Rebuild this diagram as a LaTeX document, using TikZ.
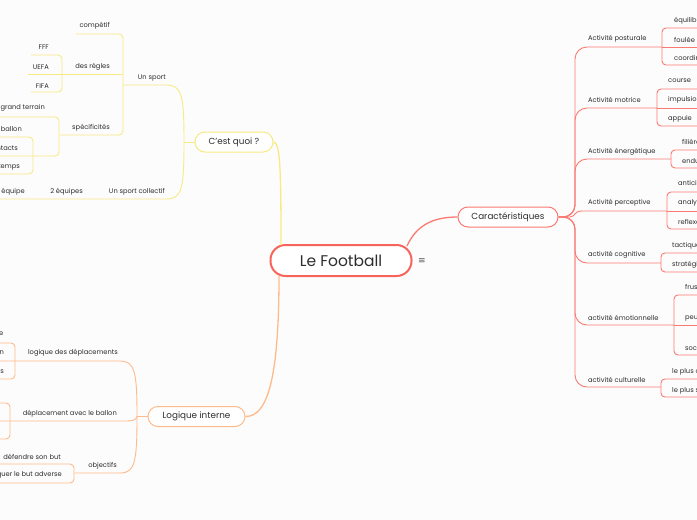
\documentclass[tikz,border=0pt]{standalone}
\usepackage{fontspec}
\setmainfont{Poppins}
\newfontfamily\dejavu{DejaVu Sans}
\definecolor{redA}{RGB}{246,100,92}
\definecolor{redB}{RGB}{250,122,114}
\definecolor{yel}{RGB}{247,234,130}
\definecolor{ora}{RGB}{255,186,138}
\definecolor{txt}{RGB}{45,45,45}
\begin{document}
\begin{tikzpicture}[x=1pt,y=-1pt,
  mainnode/.style={draw=redA, line width=2pt, rounded corners=15pt, minimum width=141pt, minimum height=31pt, fill=white, text=txt, font=\fontsize{15.5}{17}\selectfont},
  topic/.style={draw, line width=1pt, rounded corners=10pt, minimum height=20pt, fill=white, text=txt, font=\fontsize{8.8}{10}\selectfont},
  lbl/.style={font=\fontsize{6.7}{8}\selectfont, text=txt, inner sep=0pt},
  rmain/.style={draw=redB, line width=1.3pt},
  rsub/.style={draw=redB, line width=0.9pt},
  ymain/.style={draw=yel, line width=1.3pt},
  ysub/.style={draw=yel, line width=0.9pt},
  omain/.style={draw=ora, line width=1.3pt},
  osub/.style={draw=ora, line width=0.9pt}]
\fill[white!99!black] (0,0) rectangle (697,520);
\useasboundingbox (0,0) rectangle (697,520);
\clip (0,0) rectangle (697,520);

% ---------- main nodes ----------
\node[mainnode] (root) at (341,260.5) {Le Football};
\node[font=\dejavu\fontsize{9}{9}\selectfont, text=txt!80] (menu) at (422,261) {≡};
\node[topic, draw=redB, minimum width=100pt] (car) at (508,217) {Caractéristiques};
\node[topic, draw=yel, minimum width=78pt] (quoi) at (234,142) {C'est quoi ?};
\node[topic, draw=ora, minimum width=97pt] (logi) at (196.5,416.5) {Logique interne};

% ---------- root connectors ----------
\draw[rmain] (407,246) .. controls (416,226) and (432,217) .. (car.west);
\draw[ymain] (281,245) .. controls (281,165) and (280,143) .. (quoi.east);
\draw[omain] (279,276) .. controls (279,385) and (266,416.5) .. (logi.east);

% ---------- Caractéristiques ----------
\draw[rsub, rounded corners=12pt] (car.east) -- (575,217) -- (575,47) -- (662,47);
\draw[rsub, rounded corners=12pt] (car.east) -- (575,217) -- (575,108) -- (657,108);
\draw[rsub, rounded corners=12pt] (car.east) -- (575,217) -- (575,159) -- (671,159);
\draw[rsub] (car.east) -- (570,217) .. controls (575,217) and (574,211) .. (582,211) -- (667,211);
\draw[rsub, rounded corners=12pt] (car.east) -- (575,217) -- (575,263) -- (661,263);
\draw[rsub, rounded corners=12pt] (car.east) -- (575,217) -- (575,325) -- (674,325);
\draw[rsub, rounded corners=12pt] (car.east) -- (575,217) -- (575,387) -- (661,387);

\node[lbl, anchor=west] (post) at (588,39) {Activité posturale};
\node[lbl, anchor=west] (motr) at (588,100) {Activité motrice};
\node[lbl, anchor=west] (ener) at (588,152) {Activité énergétique};
\node[lbl, anchor=west] (perc) at (588,203) {Activité perceptive};
\node[lbl, anchor=west] (cogn) at (588,255) {activité cognitive};
\node[lbl, anchor=west] (emot) at (588,318) {activité émotionnelle};
\node[lbl, anchor=west] (cult) at (588,380) {activité culturelle};

% posturale
\draw[rsub, rounded corners=4pt] (700,28) -- (662,28) -- (662,65) -- (700,65);
\draw[rsub] (662,47) -- (700,47);
\node[lbl, anchor=west] (equi) at (674,21) {équilibre};
\node[lbl, anchor=west] (foul) at (674,40) {foulée};
\node[lbl, anchor=west] (coor) at (674,58) {coordination};
% motrice
\draw[rsub, rounded corners=4pt] (700,89) -- (657,89) -- (657,126) -- (700,126);
\draw[rsub] (657,108) -- (700,108);
\node[lbl, anchor=west] (cour) at (668,81) {course};
\node[lbl, anchor=west] (impu) at (668,100) {impulsion};
\node[lbl, anchor=west] (appu) at (668,119) {appuie};
% energetique
\draw[rsub, rounded corners=4pt] (700,150) -- (671,150) -- (671,168) -- (700,168);
\node[lbl, anchor=west] (fili) at (682,142) {filière};
\node[lbl, anchor=west] (endu) at (682,161) {endurance};
% perceptive
\draw[rsub, rounded corners=4pt] (700,192) -- (667,192) -- (667,229) -- (700,229);
\draw[rsub] (667,211) -- (700,211);
\node[lbl, anchor=west] (anti) at (678,184) {anticipation};
\node[lbl, anchor=west] (anal) at (678,203) {analyse};
\node[lbl, anchor=west] (refl) at (678,222) {reflexe};
% cognitive
\draw[rsub, rounded corners=4pt] (700,253) -- (661,253) -- (661,272) -- (700,272);
\node[lbl, anchor=west] (tact) at (672,246) {tactique};
\node[lbl, anchor=west] (stra) at (672,265) {stratégie};
% emotionnelle
\draw[rsub, rounded corners=4pt] (700,295) -- (674,295) -- (674,355) -- (700,355);
\draw[rsub] (674,325) -- (700,325);
\node[lbl, anchor=west] (frus) at (685,287) {frustration};
\node[lbl, anchor=west] (peur) at (685,318) {peur};
\node[lbl, anchor=west] (soci) at (685,348) {social};
% culturelle
\draw[rsub, rounded corners=4pt] (700,379) -- (661,379) -- (661,397) -- (700,397);
\node[lbl, anchor=west] (plc) at (672,372) {le plus connu};
\node[lbl, anchor=west] (pls) at (672,391) {le plus suivi};

% ---------- C'est quoi ? ----------
\draw[ysub] (quoi.west) -- (184,142);
\draw[ysub] (184,142) .. controls (184,95) and (182,85) .. (166,85) -- (123,85);
\draw[ysub] (184,142) .. controls (184,189) and (182,199) .. (166,199) -- (-2,199);
\node[lbl, anchor=east] (sport) at (166,78) {Un sport};
\node[lbl, anchor=east] (coll) at (165,192) {Un sport collectif};
\node[lbl, anchor=east] (deux) at (83,192) {2 équipes};
\node[lbl, anchor=east] (onze) at (25,192) {11 joueurs par équipe};

% Un sport
\draw[ysub, rounded corners=4pt] (76,34) -- (123,34) -- (123,135) -- (60,135);
\draw[ysub] (62,74) -- (123,74);
\node[lbl, anchor=east] (comp) at (110,26) {compétif};
\node[lbl, anchor=east] (regl) at (110,67) {des règles};
\node[lbl, anchor=east] (spec) at (110,128) {spécificités};
% des regles
\draw[ysub, rounded corners=4pt] (31,55) -- (62,55) -- (62,92) -- (31,92);
\draw[ysub] (28,74) -- (62,74);
\node[lbl, anchor=east] (fff) at (49,47) {FFF};
\node[lbl, anchor=east] (uefa) at (49,67) {UEFA};
\node[lbl, anchor=east] (fifa) at (49,86) {FIFA};
% specificites
\draw[ysub, rounded corners=4pt] (-2,117) -- (59,117) -- (59,156) -- (-2,156);
\draw[ysub, rounded corners=4pt] (-2,137) -- (33,137) -- (33,174) -- (-2,174);
\node[lbl, anchor=east] (terr) at (45,108) {grand terrain};
\node[lbl, anchor=east] (ball) at (22,129) {1 ballon};
\node[lbl, anchor=east] (cont) at (18,148) {contacts};
\node[lbl, anchor=east] (temp) at (20,167) {temps};

% ---------- Logique interne ----------
\draw[osub] (logi.west) -- (137,416.5);
\draw[osub] (137,416.5) .. controls (137,372) and (135,361) .. (120,361) -- (-2,361);
\draw[osub] (137,416.5) .. controls (136,420) and (133,421) .. (125,421) -- (-2,421);
\draw[osub] (137,416.5) .. controls (137,462) and (135,473) .. (120,473) -- (74,473);
\node[lbl, anchor=east] (depl) at (118,353) {logique des déplacements};
\node[lbl, anchor=east] (avec) at (117,414) {déplacement avec le ballon};
\node[lbl, anchor=east] (obje) at (117,466) {objectifs};
% logique des deplacements
\draw[osub, rounded corners=4pt] (-2,343) -- (15,343) -- (15,379) -- (-2,379);
\node[lbl, anchor=east] (dema) at (3.5,334) {démarquage};
\node[lbl, anchor=east] (prog) at (4,353) {progression};
\node[lbl, anchor=east] (appi) at (4,372) {appuis};
% deplacement avec le ballon
\draw[osub, rounded corners=4pt] (-2,403) -- (10,403) -- (10,439) -- (-2,439);
% objectifs
\draw[osub, rounded corners=4pt] (-2,464) -- (74,464) -- (74,483) -- (-2,483);
\node[lbl, anchor=east] (defe) at (61,457) {défendre son but};
\node[lbl, anchor=east] (marq) at (62,475) {marquer le but adverse};
\end{tikzpicture}
\end{document}
